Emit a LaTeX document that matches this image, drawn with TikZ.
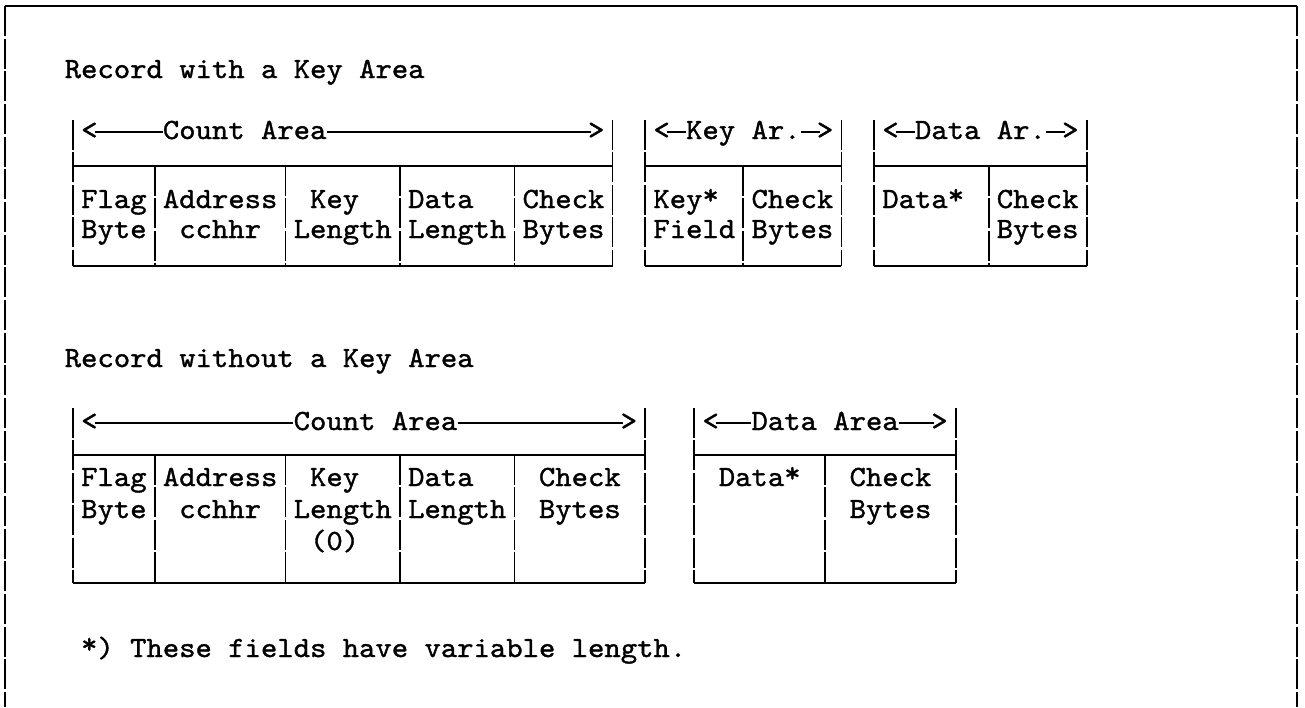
\documentclass[tikz,border=0pt]{standalone}
\usepackage{fontspec}
\setmonofont[FakeStretch=1.062,FakeBold=1.2]{lmmono10-regular.otf}
\usetikzlibrary{calc}
\newcommand\colx[1]{73+16.35*(#1)}
\newcommand\rstar{\raisebox{0.13em}{*}}
\begin{document}
\begin{tikzpicture}[x=0.75pt,y=-0.75pt]
\tikzset{
  txt/.style={anchor=base,inner sep=0pt,font=\ttfamily\fontsize{22}{24}\selectfont},
  hrule/.style={line width=1.6pt},
  vrule/.style={line width=1.4pt,dash pattern=on 22.5pt off 1.8pt},
  framev/.style={line width=1.7pt,dash pattern=on 22.5pt off 2pt},
  frameh/.style={line width=1.8pt},
  dashln/.style={line width=1.3pt}
}
\useasboundingbox (0,0) rectangle (1305,707);
% outer frame (open at the bottom)
\coordinate (fbl) at (5,707); \coordinate (ftl) at (5,6);
\coordinate (ftr) at (1297,6); \coordinate (fbr) at (1297,707);
\draw[frameh] (ftl) -- (ftr);
\draw[framev] (ftl) -- (fbl);
\draw[framev] (ftr) -- (fbr);

% ---------------- Record with a Key Area ----------------
\node[txt] (t1) at ({\colx{10.5}},78) {Record with a Key Area};

% count area box
\foreach \c in {0,33} \draw[vrule] ({\colx{\c}},120) -- ({\colx{\c}},266);
\foreach \c in {5,13,20,27} \draw[vrule] ({\colx{\c}},166) -- ({\colx{\c}},266);
\foreach \y in {166,266} \draw[hrule] ({\colx{0}},\y) -- ({\colx{33}},\y);
\node[txt] (uclt) at ({\colx{1}},139) {<};
\node[txt] (uclab) at ({\colx{10.5}},139) {Count Area};
\node[txt] (ucgt) at ({\colx{32}},139) {>};
\draw[dashln] ($(uclt.base east)+(-3,-7)$) -- ($(uclab.base west)+(0,-7)$);
\draw[dashln] ($(uclab.base east)+(0,-7)$) -- ($(ucgt.base west)+(3,-7)$);
\node[txt] (uf1) at ({\colx{2.5}},208) {Flag};
\node[txt] (uf2) at ({\colx{2.5}},238) {Byte};
\node[txt] (ua1) at ({\colx{9}},208) {Address};
\node[txt] (ua2) at ({\colx{9}},238) {cchhr};
\node[txt] (uk1) at ({\colx{16}},208) {Key};
\node[txt] (uk2) at ({\colx{16.5}},238) {Length};
\node[txt] (ud1) at ({\colx{22.5}},208) {Data};
\node[txt] (ud2) at ({\colx{23.5}},238) {Length};
\node[txt] (uc1) at ({\colx{30}},208) {Check};
\node[txt] (uc2) at ({\colx{30}},238) {Bytes};

% key area box
\foreach \c in {35,47} \draw[vrule] ({\colx{\c}},120) -- ({\colx{\c}},266);
\draw[vrule] ({\colx{41}},166) -- ({\colx{41}},266);
\foreach \y in {166,266} \draw[hrule] ({\colx{35}},\y) -- ({\colx{47}},\y);
\node[txt] (uklt) at ({\colx{36}},139) {<};
\node[txt] (uklab) at ({\colx{41}},139) {Key Ar.};
\node[txt] (ukgt) at ({\colx{46}},139) {>};
\draw[dashln] ($(uklt.base east)+(-3,-7)$) -- ($(uklab.base west)+(0,-7)$);
\draw[dashln] ($(uklab.base east)+(0,-7)$) -- ($(ukgt.base west)+(3,-7)$);
\node[txt] (ukf1) at ({\colx{37.5}},208) {Key\rstar};
\node[txt] (ukf2) at ({\colx{38}},238) {Field};
\node[txt] (ukc1) at ({\colx{44}},208) {Check};
\node[txt] (ukc2) at ({\colx{44}},238) {Bytes};

% data area box
\foreach \c in {49,62} \draw[vrule] ({\colx{\c}},120) -- ({\colx{\c}},266);
\draw[vrule] ({\colx{56}},166) -- ({\colx{56}},266);
\foreach \y in {166,266} \draw[hrule] ({\colx{49}},\y) -- ({\colx{62}},\y);
\node[txt] (udlt) at ({\colx{50}},139) {<};
\node[txt] (udlab) at ({\colx{55.5}},139) {Data Ar.};
\node[txt] (udgt) at ({\colx{61}},139) {>};
\draw[dashln] ($(udlt.base east)+(-3,-7)$) -- ($(udlab.base west)+(0,-7)$);
\draw[dashln] ($(udlab.base east)+(0,-7)$) -- ($(udgt.base west)+(3,-7)$);
\node[txt] (udd1) at ({\colx{52}},208) {Data\rstar};
\node[txt] (udc1) at ({\colx{59}},208) {Check};
\node[txt] (udc2) at ({\colx{59}},238) {Bytes};

% ---------------- Record without a Key Area ----------------
\node[txt] (t2) at ({\colx{12}},367) {Record without a Key Area};

% count area box
\foreach \c in {0,35} \draw[vrule] ({\colx{\c}},408) -- ({\colx{\c}},583);
\foreach \c in {5,13,20,27} \draw[vrule] ({\colx{\c}},455) -- ({\colx{\c}},583);
\foreach \y in {455,583} \draw[hrule] ({\colx{0}},\y) -- ({\colx{35}},\y);
\node[txt] (lclt) at ({\colx{1}},430) {<};
\node[txt] (lclab) at ({\colx{18.5}},430) {Count Area};
\node[txt] (lcgt) at ({\colx{34}},430) {>};
\draw[dashln] ($(lclt.base east)+(-3,-7)$) -- ($(lclab.base west)+(0,-7)$);
\draw[dashln] ($(lclab.base east)+(0,-7)$) -- ($(lcgt.base west)+(3,-7)$);
\node[txt] (lf1) at ({\colx{2.5}},486) {Flag};
\node[txt] (lf2) at ({\colx{2.5}},518) {Byte};
\node[txt] (la1) at ({\colx{9}},486) {Address};
\node[txt] (la2) at ({\colx{9}},518) {cchhr};
\node[txt] (lk1) at ({\colx{16}},486) {Key};
\node[txt] (lk2) at ({\colx{16.5}},518) {Length};
\node[txt] (lk3) at ({\colx{16}},550) {(0)};
\node[txt] (ld1) at ({\colx{22.5}},486) {Data};
\node[txt] (ld2) at ({\colx{23.5}},518) {Length};
\node[txt] (lc1) at ({\colx{31}},486) {Check};
\node[txt] (lc2) at ({\colx{31}},518) {Bytes};

% data area box
\foreach \c in {38,54} \draw[vrule] ({\colx{\c}},408) -- ({\colx{\c}},583);
\draw[vrule] ({\colx{46}},455) -- ({\colx{46}},583);
\foreach \y in {455,583} \draw[hrule] ({\colx{38}},\y) -- ({\colx{54}},\y);
\node[txt] (ldlt) at ({\colx{39}},430) {<};
\node[txt] (ldlab) at ({\colx{46}},430) {Data Area};
\node[txt] (ldgt) at ({\colx{53}},430) {>};
\draw[dashln] ($(ldlt.base east)+(-3,-7)$) -- ($(ldlab.base west)+(0,-7)$);
\draw[dashln] ($(ldlab.base east)+(0,-7)$) -- ($(ldgt.base west)+(3,-7)$);
\node[txt] (ldd1) at ({\colx{42}},486) {Data\rstar};
\node[txt] (ldc1) at ({\colx{50}},486) {Check};
\node[txt] (ldc2) at ({\colx{50}},518) {Bytes};

% footnote
\node[txt] (fn) at ({\colx{19}},657) {\rstar) These fields have variable length.};
\end{tikzpicture}
\end{document}
